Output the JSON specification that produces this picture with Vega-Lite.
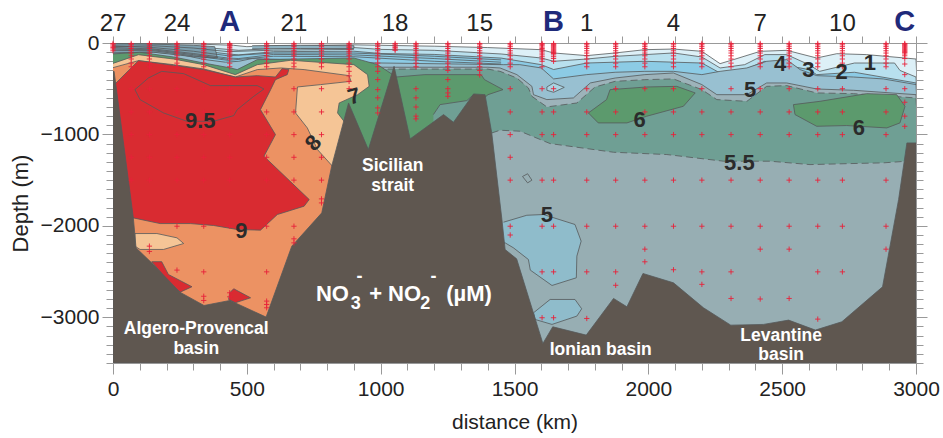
{"$schema":"https://vega.github.io/schema/vega-lite/v6.json","width":803,"height":320,"autosize":{"type":"none"},"padding":{"left":113,"top":43,"right":27,"bottom":75},"background":"white","config":{"view":{"stroke":null},"text":{"font":"Liberation Sans"},"axis":{"labelFont":"Liberation Sans","titleFont":"Liberation Sans","labelColor":"#222","titleColor":"#222","grid":false,"domainColor":"#999","tickColor":"#999"}},
"datasets":{"poly":[
{"p":"L1","s":1,"x":0,"y":-5},{"p":"L1","s":2,"x":300,"y":-10},{"p":"L1","s":3,"x":450,"y":-25},{"p":"L1","s":4,"x":500,"y":-40},{"p":"L1","s":5,"x":600,"y":-30},{"p":"L1","s":6,"x":900,"y":-20},{"p":"L1","s":7,"x":1000,"y":-25},{"p":"L1","s":8,"x":1200,"y":-35},{"p":"L1","s":9,"x":1400,"y":-50},{"p":"L1","s":10,"x":1600,"y":-73},{"p":"L1","s":11,"x":1646,"y":-109},{"p":"L1","s":12,"x":1770,"y":-138},{"p":"L1","s":13,"x":1876,"y":-109},{"p":"L1","s":14,"x":1987,"y":-73},{"p":"L1","s":15,"x":2094,"y":-66},{"p":"L1","s":16,"x":2200,"y":-91},{"p":"L1","s":17,"x":2268,"y":-226},{"p":"L1","s":18,"x":2318,"y":-182},{"p":"L1","s":19,"x":2418,"y":-91},{"p":"L1","s":20,"x":2517,"y":-80},{"p":"L1","s":21,"x":2629,"y":-164},{"p":"L1","s":22,"x":2704,"y":-117},{"p":"L1","s":23,"x":2816,"y":-127},{"p":"L1","s":24,"x":3000,"y":-175},{"p":"L1","s":25,"x":3050,"y":-3500},{"p":"L1","s":26,"x":-50,"y":-3500},
{"p":"L2","s":1,"x":0,"y":-10},{"p":"L2","s":2,"x":150,"y":-20},{"p":"L2","s":3,"x":300,"y":-40},{"p":"L2","s":4,"x":430,"y":-70},{"p":"L2","s":5,"x":470,"y":-80},{"p":"L2","s":6,"x":600,"y":-60},{"p":"L2","s":7,"x":900,"y":-50},{"p":"L2","s":8,"x":1000,"y":-70},{"p":"L2","s":9,"x":1200,"y":-80},{"p":"L2","s":10,"x":1450,"y":-120},{"p":"L2","s":11,"x":1600,"y":-164},{"p":"L2","s":12,"x":1646,"y":-200},{"p":"L2","s":13,"x":1770,"y":-175},{"p":"L2","s":14,"x":1876,"y":-146},{"p":"L2","s":15,"x":1987,"y":-127},{"p":"L2","s":16,"x":2094,"y":-109},{"p":"L2","s":17,"x":2200,"y":-153},{"p":"L2","s":18,"x":2268,"y":-273},{"p":"L2","s":19,"x":2360,"y":-237},{"p":"L2","s":20,"x":2435,"y":-127},{"p":"L2","s":21,"x":2517,"y":-127},{"p":"L2","s":22,"x":2600,"y":-237},{"p":"L2","s":23,"x":2640,"y":-310},{"p":"L2","s":24,"x":2770,"y":-219},{"p":"L2","s":25,"x":2920,"y":-219},{"p":"L2","s":26,"x":2940,"y":-300},{"p":"L2","s":27,"x":3000,"y":-372},{"p":"L2","s":28,"x":3050,"y":-3500},{"p":"L2","s":29,"x":-50,"y":-3500},
{"p":"L3","s":1,"x":0,"y":-20},{"p":"L3","s":2,"x":150,"y":-40},{"p":"L3","s":3,"x":300,"y":-75},{"p":"L3","s":4,"x":430,"y":-120},{"p":"L3","s":5,"x":470,"y":-130},{"p":"L3","s":6,"x":600,"y":-95},{"p":"L3","s":7,"x":900,"y":-90},{"p":"L3","s":8,"x":1000,"y":-115},{"p":"L3","s":9,"x":1200,"y":-125},{"p":"L3","s":10,"x":1450,"y":-165},{"p":"L3","s":11,"x":1600,"y":-237},{"p":"L3","s":12,"x":1646,"y":-290},{"p":"L3","s":13,"x":1770,"y":-219},{"p":"L3","s":14,"x":1987,"y":-200},{"p":"L3","s":15,"x":2200,"y":-219},{"p":"L3","s":16,"x":2268,"y":-328},{"p":"L3","s":17,"x":2360,"y":-291},{"p":"L3","s":18,"x":2435,"y":-200},{"p":"L3","s":19,"x":2600,"y":-291},{"p":"L3","s":20,"x":2629,"y":-346},{"p":"L3","s":21,"x":2770,"y":-320},{"p":"L3","s":22,"x":3000,"y":-437},{"p":"L3","s":23,"x":3050,"y":-3500},{"p":"L3","s":24,"x":-50,"y":-3500},
{"p":"L4","s":1,"x":0,"y":-110},{"p":"L4","s":2,"x":150,"y":-100},{"p":"L4","s":3,"x":250,"y":-125},{"p":"L4","s":4,"x":340,"y":-180},{"p":"L4","s":5,"x":420,"y":-210},{"p":"L4","s":6,"x":470,"y":-200},{"p":"L4","s":7,"x":520,"y":-170},{"p":"L4","s":8,"x":985,"y":-218},{"p":"L4","s":9,"x":1460,"y":-237},{"p":"L4","s":10,"x":1520,"y":-237},{"p":"L4","s":11,"x":1600,"y":-273},{"p":"L4","s":12,"x":1646,"y":-393},{"p":"L4","s":13,"x":1770,"y":-346},{"p":"L4","s":14,"x":1876,"y":-320},{"p":"L4","s":15,"x":1987,"y":-310},{"p":"L4","s":16,"x":2094,"y":-310},{"p":"L4","s":17,"x":2200,"y":-346},{"p":"L4","s":18,"x":2268,"y":-310},{"p":"L4","s":19,"x":2368,"y":-273},{"p":"L4","s":20,"x":2442,"y":-200},{"p":"L4","s":21,"x":2517,"y":-182},{"p":"L4","s":22,"x":2567,"y":-291},{"p":"L4","s":23,"x":2629,"y":-357},{"p":"L4","s":24,"x":2766,"y":-372},{"p":"L4","s":25,"x":2878,"y":-393},{"p":"L4","s":26,"x":3000,"y":-455},{"p":"L4","s":27,"x":3050,"y":-3500},{"p":"L4","s":28,"x":-50,"y":-3500},
{"p":"Slate","s":1,"x":-50,"y":-8},{"p":"Slate","s":2,"x":150,"y":-12},{"p":"Slate","s":3,"x":300,"y":-25},{"p":"Slate","s":4,"x":380,"y":-40},{"p":"Slate","s":5,"x":390,"y":-165},{"p":"Slate","s":6,"x":300,"y":-150},{"p":"Slate","s":7,"x":150,"y":-100},{"p":"Slate","s":8,"x":-50,"y":-110},
{"p":"Slate2","s":1,"x":520,"y":-30},{"p":"Slate2","s":2,"x":700,"y":-25},{"p":"Slate2","s":3,"x":900,"y":-30},{"p":"Slate2","s":4,"x":900,"y":-60},{"p":"Slate2","s":5,"x":700,"y":-60},{"p":"Slate2","s":6,"x":520,"y":-65},
{"p":"X1","s":1,"x":0,"y":-30},{"p":"X1","s":2,"x":150,"y":-50},{"p":"X1","s":3,"x":300,"y":-90},{"p":"X1","s":4,"x":430,"y":-140},{"p":"X1","s":5,"x":600,"y":-110},{"p":"X1","s":6,"x":900,"y":-110},{"p":"X1","s":7,"x":1200,"y":-145},{"p":"X1","s":8,"x":1450,"y":-185},
{"p":"X2","s":1,"x":0,"y":-50},{"p":"X2","s":2,"x":150,"y":-65},{"p":"X2","s":3,"x":300,"y":-115},{"p":"X2","s":4,"x":430,"y":-165},{"p":"X2","s":5,"x":470,"y":-170},{"p":"X2","s":6,"x":600,"y":-125},{"p":"X2","s":7,"x":900,"y":-130},{"p":"X2","s":8,"x":1200,"y":-170},{"p":"X2","s":9,"x":1450,"y":-210},
{"p":"X3","s":1,"x":0,"y":-80},{"p":"X3","s":2,"x":150,"y":-85},{"p":"X3","s":3,"x":300,"y":-140},{"p":"X3","s":4,"x":430,"y":-190},{"p":"X3","s":5,"x":600,"y":-145},{"p":"X3","s":6,"x":900,"y":-150},{"p":"X3","s":7,"x":1200,"y":-200},{"p":"X3","s":8,"x":1450,"y":-230},
{"p":"X4","s":1,"x":0,"y":-40},{"p":"X4","s":2,"x":150,"y":-30},{"p":"X4","s":3,"x":300,"y":-55},{"p":"X4","s":4,"x":430,"y":-95},{"p":"X4","s":5,"x":600,"y":-78},{"p":"X4","s":6,"x":900,"y":-70},
{"p":"X5","s":1,"x":0,"y":-65},{"p":"X5","s":2,"x":150,"y":-75},{"p":"X5","s":3,"x":300,"y":-127},{"p":"X5","s":4,"x":430,"y":-178},
{"p":"L5","s":1,"x":0,"y":-300},{"p":"L5","s":2,"x":900,"y":-300},{"p":"L5","s":3,"x":985,"y":-265},{"p":"L5","s":4,"x":1400,"y":-265},{"p":"L5","s":5,"x":1446,"y":-273},{"p":"L5","s":6,"x":1509,"y":-346},{"p":"L5","s":7,"x":1565,"y":-474},{"p":"L5","s":8,"x":1571,"y":-565},{"p":"L5","s":9,"x":1621,"y":-619},{"p":"L5","s":10,"x":1720,"y":-601},{"p":"L5","s":11,"x":1783,"y":-437},{"p":"L5","s":12,"x":1876,"y":-383},{"p":"L5","s":13,"x":1987,"y":-346},{"p":"L5","s":14,"x":2094,"y":-328},{"p":"L5","s":15,"x":2200,"y":-455},{"p":"L5","s":16,"x":2256,"y":-565},{"p":"L5","s":17,"x":2368,"y":-565},{"p":"L5","s":18,"x":2442,"y":-437},{"p":"L5","s":19,"x":2517,"y":-437},{"p":"L5","s":20,"x":2629,"y":-503},{"p":"L5","s":21,"x":2766,"y":-517},{"p":"L5","s":22,"x":3000,"y":-565},{"p":"L5","s":23,"x":3050,"y":-3500},{"p":"L5","s":24,"x":-50,"y":-3500},
{"p":"L55","s":1,"x":0,"y":-320},{"p":"L55","s":2,"x":900,"y":-320},{"p":"L55","s":3,"x":985,"y":-285},{"p":"L55","s":4,"x":1400,"y":-285},{"p":"L55","s":5,"x":1446,"y":-310},{"p":"L55","s":6,"x":1509,"y":-383},{"p":"L55","s":7,"x":1552,"y":-492},{"p":"L55","s":8,"x":1565,"y":-583},{"p":"L55","s":9,"x":1621,"y":-699},{"p":"L55","s":10,"x":1733,"y":-656},{"p":"L55","s":11,"x":1801,"y":-481},{"p":"L55","s":12,"x":1876,"y":-419},{"p":"L55","s":13,"x":1987,"y":-401},{"p":"L55","s":14,"x":2094,"y":-393},{"p":"L55","s":15,"x":2200,"y":-510},{"p":"L55","s":16,"x":2256,"y":-619},{"p":"L55","s":17,"x":2368,"y":-638},{"p":"L55","s":18,"x":2442,"y":-474},{"p":"L55","s":19,"x":2517,"y":-466},{"p":"L55","s":20,"x":2629,"y":-546},{"p":"L55","s":21,"x":2766,"y":-554},{"p":"L55","s":22,"x":3000,"y":-601},{"p":"L55","s":23,"x":3050,"y":-3500},{"p":"L55","s":24,"x":-50,"y":-3500},
{"p":"Deep","s":1,"x":1415,"y":-984},{"p":"Deep","s":2,"x":1446,"y":-954},{"p":"Deep","s":3,"x":1521,"y":-965},{"p":"Deep","s":4,"x":1633,"y":-1100},{"p":"Deep","s":5,"x":1870,"y":-1195},{"p":"Deep","s":6,"x":2069,"y":-1220},{"p":"Deep","s":7,"x":2281,"y":-1293},{"p":"Deep","s":8,"x":2455,"y":-1293},{"p":"Deep","s":9,"x":2604,"y":-1330},{"p":"Deep","s":10,"x":2754,"y":-1319},{"p":"Deep","s":11,"x":2878,"y":-1311},{"p":"Deep","s":12,"x":3000,"y":-1286},{"p":"Deep","s":13,"x":3050,"y":-3500},{"p":"Deep","s":14,"x":1415,"y":-3500},
{"p":"Green","s":1,"x":-50,"y":-128},{"p":"Green","s":2,"x":100,"y":-102},{"p":"Green","s":3,"x":226,"y":-153},{"p":"Green","s":4,"x":339,"y":-219},{"p":"Green","s":5,"x":439,"y":-273},{"p":"Green","s":6,"x":464,"y":-291},{"p":"Green","s":7,"x":539,"y":-182},{"p":"Green","s":8,"x":900,"y":-164},{"p":"Green","s":9,"x":989,"y":-237},{"p":"Green","s":10,"x":1058,"y":-372},{"p":"Green","s":11,"x":1165,"y":-346},{"p":"Green","s":12,"x":1375,"y":-346},{"p":"Green","s":13,"x":1388,"y":-401},{"p":"Green","s":14,"x":1457,"y":-510},{"p":"Green","s":15,"x":1401,"y":-565},{"p":"Green","s":16,"x":1347,"y":-700},{"p":"Green","s":17,"x":1000,"y":-1300},{"p":"Green","s":18,"x":-50,"y":-1300},
{"p":"TealPatch","s":1,"x":1197,"y":-783},{"p":"TealPatch","s":2,"x":1222,"y":-674},{"p":"TealPatch","s":3,"x":1322,"y":-630},{"p":"TealPatch","s":4,"x":1347,"y":-565},{"p":"TealPatch","s":5,"x":1300,"y":-950},{"p":"TealPatch","s":6,"x":1197,"y":-950},
{"p":"Tan","s":1,"x":-50,"y":-273},{"p":"Tan","s":2,"x":95,"y":-128},{"p":"Tan","s":3,"x":226,"y":-175},{"p":"Tan","s":4,"x":339,"y":-237},{"p":"Tan","s":5,"x":457,"y":-346},{"p":"Tan","s":6,"x":539,"y":-237},{"p":"Tan","s":7,"x":664,"y":-189},{"p":"Tan","s":8,"x":900,"y":-237},{"p":"Tan","s":9,"x":951,"y":-346},{"p":"Tan","s":10,"x":957,"y":-474},{"p":"Tan","s":11,"x":914,"y":-565},{"p":"Tan","s":12,"x":845,"y":-656},{"p":"Tan","s":13,"x":839,"y":-765},{"p":"Tan","s":14,"x":882,"y":-929},{"p":"Tan","s":15,"x":901,"y":-1057},{"p":"Tan","s":16,"x":957,"y":-1184},{"p":"Tan","s":17,"x":957,"y":-2000},{"p":"Tan","s":18,"x":-50,"y":-2000},
{"p":"Orange","s":1,"x":-50,"y":-310},{"p":"Orange","s":2,"x":95,"y":-193},{"p":"Orange","s":3,"x":226,"y":-237},{"p":"Orange","s":4,"x":339,"y":-284},{"p":"Orange","s":5,"x":457,"y":-372},{"p":"Orange","s":6,"x":539,"y":-291},{"p":"Orange","s":7,"x":627,"y":-273},{"p":"Orange","s":8,"x":714,"y":-291},{"p":"Orange","s":9,"x":882,"y":-357},{"p":"Orange","s":10,"x":889,"y":-419},{"p":"Orange","s":11,"x":776,"y":-455},{"p":"Orange","s":12,"x":689,"y":-481},{"p":"Orange","s":13,"x":682,"y":-765},{"p":"Orange","s":14,"x":726,"y":-929},{"p":"Orange","s":15,"x":764,"y":-1166},{"p":"Orange","s":16,"x":820,"y":-1348},{"p":"Orange","s":17,"x":840,"y":-3200},{"p":"Orange","s":18,"x":-50,"y":-3200},
{"p":"Red","s":1,"x":0,"y":-470},{"p":"Red","s":2,"x":95,"y":-193},{"p":"Red","s":3,"x":226,"y":-244},{"p":"Red","s":4,"x":339,"y":-291},{"p":"Red","s":5,"x":457,"y":-372},{"p":"Red","s":6,"x":539,"y":-357},{"p":"Red","s":7,"x":607,"y":-372},{"p":"Red","s":8,"x":632,"y":-280},{"p":"Red","s":9,"x":657,"y":-291},{"p":"Red","s":10,"x":651,"y":-346},{"p":"Red","s":11,"x":607,"y":-401},{"p":"Red","s":12,"x":589,"y":-510},{"p":"Red","s":13,"x":551,"y":-729},{"p":"Red","s":14,"x":607,"y":-1002},{"p":"Red","s":15,"x":564,"y":-1239},{"p":"Red","s":16,"x":733,"y":-1712},{"p":"Red","s":17,"x":714,"y":-1785},{"p":"Red","s":18,"x":614,"y":-1876},{"p":"Red","s":19,"x":551,"y":-2047},{"p":"Red","s":20,"x":464,"y":-2040},{"p":"Red","s":21,"x":376,"y":-1996},{"p":"Red","s":22,"x":289,"y":-1975},{"p":"Red","s":23,"x":176,"y":-1975},{"p":"Red","s":24,"x":76,"y":-1913},{"p":"Red","s":25,"x":0,"y":-1913},
{"p":"Red95","s":1,"x":132,"y":-383},{"p":"Red95","s":2,"x":182,"y":-310},{"p":"Red95","s":3,"x":264,"y":-335},{"p":"Red95","s":4,"x":364,"y":-466},{"p":"Red95","s":5,"x":539,"y":-466},{"p":"Red95","s":6,"x":564,"y":-503},{"p":"Red95","s":7,"x":526,"y":-583},{"p":"Red95","s":8,"x":464,"y":-729},{"p":"Red95","s":9,"x":451,"y":-794},{"p":"Red95","s":10,"x":376,"y":-856},{"p":"Red95","s":11,"x":276,"y":-856},{"p":"Red95","s":12,"x":189,"y":-765},{"p":"Red95","s":13,"x":101,"y":-619},{"p":"Red95","s":14,"x":82,"y":-510},{"p":"Red95","s":15,"x":132,"y":-383},
{"p":"Red2","s":1,"x":145,"y":-2392},{"p":"Red2","s":2,"x":182,"y":-2392},{"p":"Red2","s":3,"x":207,"y":-2532},{"p":"Red2","s":4,"x":295,"y":-2666},{"p":"Red2","s":5,"x":251,"y":-2725},{"p":"Red2","s":6,"x":220,"y":-2659},{"p":"Red2","s":7,"x":145,"y":-2392},
{"p":"Red3","s":1,"x":451,"y":-2688},{"p":"Red3","s":2,"x":514,"y":-2787},{"p":"Red3","s":3,"x":457,"y":-2841},{"p":"Red3","s":4,"x":432,"y":-2805},{"p":"Red3","s":5,"x":436,"y":-2732},{"p":"Red3","s":6,"x":451,"y":-2688},
{"p":"Tan2","s":1,"x":82,"y":-2084},{"p":"Tan2","s":2,"x":164,"y":-2084},{"p":"Tan2","s":3,"x":239,"y":-2131},{"p":"Tan2","s":4,"x":264,"y":-2193},{"p":"Tan2","s":5,"x":189,"y":-2258},{"p":"Tan2","s":6,"x":101,"y":-2258},{"p":"Tan2","s":7,"x":82,"y":-2222},{"p":"Tan2","s":8,"x":82,"y":-2084},
{"p":"PatchA","s":1,"x":1459,"y":-1960},{"p":"PatchA","s":2,"x":1546,"y":-1884},{"p":"PatchA","s":3,"x":1608,"y":-1876},{"p":"PatchA","s":4,"x":1726,"y":-1985},{"p":"PatchA","s":5,"x":1749,"y":-2167},{"p":"PatchA","s":6,"x":1733,"y":-2331},{"p":"PatchA","s":7,"x":1731,"y":-2568},{"p":"PatchA","s":8,"x":1640,"y":-2652},{"p":"PatchA","s":9,"x":1559,"y":-2484},{"p":"PatchA","s":10,"x":1552,"y":-2368},{"p":"PatchA","s":11,"x":1496,"y":-2240},{"p":"PatchA","s":12,"x":1465,"y":-2186},{"p":"PatchA","s":13,"x":1440,"y":-2186},{"p":"PatchA","s":14,"x":1440,"y":-1960},
{"p":"PatchB","s":1,"x":1571,"y":-2951},{"p":"PatchB","s":2,"x":1633,"y":-2805},{"p":"PatchB","s":3,"x":1726,"y":-2805},{"p":"PatchB","s":4,"x":1751,"y":-2907},{"p":"PatchB","s":5,"x":1733,"y":-2987},{"p":"PatchB","s":6,"x":1640,"y":-3078},{"p":"PatchB","s":7,"x":1577,"y":-3024},{"p":"PatchB","s":8,"x":1571,"y":-2951},
{"p":"PatchC","s":1,"x":1621,"y":-481},{"p":"PatchC","s":2,"x":1646,"y":-437},{"p":"PatchC","s":3,"x":1686,"y":-485},{"p":"PatchC","s":4,"x":1646,"y":-539},{"p":"PatchC","s":5,"x":1621,"y":-517},{"p":"PatchC","s":6,"x":1621,"y":-481},
{"p":"GreenA","s":1,"x":1776,"y":-765},{"p":"GreenA","s":2,"x":1844,"y":-619},{"p":"GreenA","s":3,"x":1857,"y":-510},{"p":"GreenA","s":4,"x":1994,"y":-481},{"p":"GreenA","s":5,"x":2106,"y":-474},{"p":"GreenA","s":6,"x":2175,"y":-546},{"p":"GreenA","s":7,"x":2131,"y":-692},{"p":"GreenA","s":8,"x":1994,"y":-801},{"p":"GreenA","s":9,"x":1920,"y":-874},{"p":"GreenA","s":10,"x":1813,"y":-874},{"p":"GreenA","s":11,"x":1776,"y":-765},
{"p":"GreenB","s":1,"x":2542,"y":-674},{"p":"GreenB","s":2,"x":2641,"y":-638},{"p":"GreenB","s":3,"x":2816,"y":-554},{"p":"GreenB","s":4,"x":2928,"y":-565},{"p":"GreenB","s":5,"x":2959,"y":-692},{"p":"GreenB","s":6,"x":2940,"y":-874},{"p":"GreenB","s":7,"x":2891,"y":-929},{"p":"GreenB","s":8,"x":2741,"y":-903},{"p":"GreenB","s":9,"x":2629,"y":-911},{"p":"GreenB","s":10,"x":2548,"y":-783},{"p":"GreenB","s":11,"x":2542,"y":-674},
{"p":"Small","s":1,"x":1530,"y":-1460},{"p":"Small","s":2,"x":1549,"y":-1430},{"p":"Small","s":3,"x":1565,"y":-1500},{"p":"Small","s":4,"x":1549,"y":-1530},{"p":"Small","s":5,"x":1530,"y":-1460},
{"p":"Bathy","s":1,"x":0,"y":-310},{"p":"Bathy","s":2,"x":4,"y":-310},{"p":"Bathy","s":3,"x":76,"y":-1913},{"p":"Bathy","s":4,"x":86,"y":-2240},{"p":"Bathy","s":5,"x":151,"y":-2423},{"p":"Bathy","s":6,"x":250,"y":-2725},{"p":"Bathy","s":7,"x":340,"y":-2871},{"p":"Bathy","s":8,"x":437,"y":-2816},{"p":"Bathy","s":9,"x":572,"y":-2998},{"p":"Bathy","s":10,"x":668,"y":-2222},{"p":"Bathy","s":11,"x":780,"y":-1858},{"p":"Bathy","s":12,"x":817,"y":-1348},{"p":"Bathy","s":13,"x":880,"y":-656},{"p":"Bathy","s":14,"x":954,"y":-1166},{"p":"Bathy","s":15,"x":1050,"y":-255},{"p":"Bathy","s":16,"x":1110,"y":-1049},{"p":"Bathy","s":17,"x":1235,"y":-783},{"p":"Bathy","s":18,"x":1272,"y":-867},{"p":"Bathy","s":19,"x":1347,"y":-557},{"p":"Bathy","s":20,"x":1390,"y":-565},{"p":"Bathy","s":21,"x":1415,"y":-984},{"p":"Bathy","s":22,"x":1453,"y":-1931},{"p":"Bathy","s":23,"x":1465,"y":-2259},{"p":"Bathy","s":24,"x":1508,"y":-2361},{"p":"Bathy","s":25,"x":1606,"y":-3286},{"p":"Bathy","s":26,"x":1643,"y":-3104},{"p":"Bathy","s":27,"x":1768,"y":-3195},{"p":"Bathy","s":28,"x":1870,"y":-2794},{"p":"Bathy","s":29,"x":1920,"y":-2885},{"p":"Bathy","s":30,"x":1980,"y":-2521},{"p":"Bathy","s":31,"x":2094,"y":-2623},{"p":"Bathy","s":32,"x":2206,"y":-2896},{"p":"Bathy","s":33,"x":2308,"y":-3086},{"p":"Bathy","s":34,"x":2430,"y":-3078},{"p":"Bathy","s":35,"x":2524,"y":-3031},{"p":"Bathy","s":36,"x":2624,"y":-3140},{"p":"Bathy","s":37,"x":2723,"y":-3049},{"p":"Bathy","s":38,"x":2875,"y":-2667},{"p":"Bathy","s":39,"x":2935,"y":-1712},{"p":"Bathy","s":40,"x":2966,"y":-1093},{"p":"Bathy","s":41,"x":3000,"y":-1093},{"p":"Bathy","s":42,"x":3000,"y":-3500},{"p":"Bathy","s":43,"x":0,"y":-3500},{"p":"Bathy","s":44,"x":0,"y":-310}
],
"sta":[
{"x":0,"y":-5},{"x":0,"y":-20},{"x":0,"y":-35},{"x":0,"y":-50},{"x":0,"y":-65},{"x":0,"y":-85},
{"x":68,"y":-5},{"x":68,"y":-20},{"x":68,"y":-40},{"x":68,"y":-60},{"x":68,"y":-85},{"x":68,"y":-110},{"x":68,"y":-140},{"x":68,"y":-175},{"x":68,"y":-220},{"x":68,"y":-260},{"x":68,"y":-500},{"x":68,"y":-754},{"x":68,"y":-1002},{"x":68,"y":-1250},{"x":68,"y":-1500},
{"x":136,"y":-5},{"x":136,"y":-20},{"x":136,"y":-40},{"x":136,"y":-60},{"x":136,"y":-85},{"x":136,"y":-110},{"x":136,"y":-140},{"x":136,"y":-175},{"x":136,"y":-220},{"x":136,"y":-260},{"x":136,"y":-500},{"x":136,"y":-754},{"x":136,"y":-1002},{"x":136,"y":-1250},{"x":136,"y":-1500},{"x":136,"y":-2222},{"x":136,"y":-2280},
{"x":239,"y":-5},{"x":239,"y":-20},{"x":239,"y":-40},{"x":239,"y":-60},{"x":239,"y":-85},{"x":239,"y":-110},{"x":239,"y":-140},{"x":239,"y":-175},{"x":239,"y":-220},{"x":239,"y":-260},{"x":239,"y":-500},{"x":239,"y":-754},{"x":239,"y":-1002},{"x":239,"y":-1250},{"x":239,"y":-1500},{"x":239,"y":-2004},{"x":239,"y":-2484},
{"x":339,"y":-5},{"x":339,"y":-20},{"x":339,"y":-40},{"x":339,"y":-60},{"x":339,"y":-85},{"x":339,"y":-110},{"x":339,"y":-140},{"x":339,"y":-175},{"x":339,"y":-220},{"x":339,"y":-260},{"x":339,"y":-500},{"x":339,"y":-754},{"x":339,"y":-1002},{"x":339,"y":-1250},{"x":339,"y":-1500},{"x":339,"y":-2004},{"x":339,"y":-2503},{"x":339,"y":-2770},{"x":339,"y":-2816},
{"x":436,"y":-5},{"x":436,"y":-15},{"x":436,"y":-25},{"x":436,"y":-35},{"x":436,"y":-50},{"x":436,"y":-65},{"x":436,"y":-80},{"x":436,"y":-95},{"x":436,"y":-110},{"x":436,"y":-130},{"x":436,"y":-150},{"x":436,"y":-175},{"x":436,"y":-220},{"x":436,"y":-260},{"x":436,"y":-500},{"x":436,"y":-754},{"x":436,"y":-1002},{"x":436,"y":-1250},{"x":436,"y":-1500},{"x":436,"y":-2004},{"x":436,"y":-2732},{"x":436,"y":-2776},
{"x":574,"y":-5},{"x":574,"y":-20},{"x":574,"y":-40},{"x":574,"y":-60},{"x":574,"y":-85},{"x":574,"y":-110},{"x":574,"y":-140},{"x":574,"y":-175},{"x":574,"y":-220},{"x":574,"y":-260},{"x":574,"y":-754},{"x":574,"y":-1002},{"x":574,"y":-1250},{"x":574,"y":-1500},{"x":574,"y":-2004},{"x":574,"y":-2503},{"x":574,"y":-2823},{"x":574,"y":-2860},{"x":574,"y":-2896},
{"x":676,"y":-5},{"x":676,"y":-20},{"x":676,"y":-40},{"x":676,"y":-60},{"x":676,"y":-85},{"x":676,"y":-110},{"x":676,"y":-140},{"x":676,"y":-175},{"x":676,"y":-220},{"x":676,"y":-260},{"x":676,"y":-500},{"x":676,"y":-754},{"x":676,"y":-1002},{"x":676,"y":-1250},{"x":676,"y":-1500},{"x":676,"y":-2004},{"x":676,"y":-2142},{"x":676,"y":-2186},
{"x":779,"y":-5},{"x":779,"y":-20},{"x":779,"y":-40},{"x":779,"y":-60},{"x":779,"y":-85},{"x":779,"y":-110},{"x":779,"y":-140},{"x":779,"y":-175},{"x":779,"y":-220},{"x":779,"y":-260},{"x":779,"y":-500},{"x":779,"y":-754},{"x":779,"y":-1002},{"x":779,"y":-1250},{"x":779,"y":-1500},{"x":779,"y":-1705},{"x":779,"y":-1749},
{"x":882,"y":-5},{"x":882,"y":-20},{"x":882,"y":-35},{"x":882,"y":-50},{"x":882,"y":-70},{"x":882,"y":-90},{"x":882,"y":-110},{"x":882,"y":-140},{"x":882,"y":-175},{"x":882,"y":-220},{"x":882,"y":-260},{"x":882,"y":-310},{"x":882,"y":-360},{"x":882,"y":-420},{"x":882,"y":-500},
{"x":989,"y":-5},{"x":989,"y":-20},{"x":989,"y":-40},{"x":989,"y":-60},{"x":989,"y":-85},{"x":989,"y":-110},{"x":989,"y":-140},{"x":989,"y":-175},{"x":989,"y":-220},{"x":989,"y":-260},{"x":989,"y":-310},{"x":989,"y":-400},{"x":989,"y":-510},{"x":989,"y":-600},{"x":989,"y":-710},{"x":989,"y":-765},
{"x":1054,"y":-5},{"x":1054,"y":-20},{"x":1054,"y":-35},{"x":1054,"y":-50},{"x":1054,"y":-65},{"x":1054,"y":-80},
{"x":1132,"y":-5},{"x":1132,"y":-20},{"x":1132,"y":-40},{"x":1132,"y":-60},{"x":1132,"y":-85},{"x":1132,"y":-110},{"x":1132,"y":-140},{"x":1132,"y":-175},{"x":1132,"y":-220},{"x":1132,"y":-260},{"x":1132,"y":-500},{"x":1132,"y":-600},{"x":1132,"y":-700},{"x":1132,"y":-800},{"x":1132,"y":-830},
{"x":1251,"y":-5},{"x":1251,"y":-20},{"x":1251,"y":-40},{"x":1251,"y":-60},{"x":1251,"y":-85},{"x":1251,"y":-110},{"x":1251,"y":-140},{"x":1251,"y":-175},{"x":1251,"y":-220},{"x":1251,"y":-260},{"x":1251,"y":-300},{"x":1251,"y":-400},{"x":1251,"y":-500},{"x":1251,"y":-546},{"x":1251,"y":-583},
{"x":1370,"y":-5},{"x":1370,"y":-20},{"x":1370,"y":-40},{"x":1370,"y":-60},{"x":1370,"y":-85},{"x":1370,"y":-110},{"x":1370,"y":-140},{"x":1370,"y":-175},{"x":1370,"y":-220},{"x":1370,"y":-260},{"x":1370,"y":-300},{"x":1370,"y":-350},
{"x":1484,"y":-5},{"x":1484,"y":-20},{"x":1484,"y":-40},{"x":1484,"y":-60},{"x":1484,"y":-85},{"x":1484,"y":-110},{"x":1484,"y":-140},{"x":1484,"y":-175},{"x":1484,"y":-220},{"x":1484,"y":-260},{"x":1484,"y":-500},{"x":1484,"y":-754},{"x":1484,"y":-1002},{"x":1484,"y":-1250},{"x":1484,"y":-1500},{"x":1484,"y":-2004},{"x":1484,"y":-2100},
{"x":1603,"y":-5},{"x":1603,"y":-15},{"x":1603,"y":-30},{"x":1603,"y":-45},{"x":1603,"y":-60},{"x":1603,"y":-75},{"x":1603,"y":-90},{"x":1603,"y":-110},{"x":1603,"y":-130},{"x":1603,"y":-150},{"x":1603,"y":-175},{"x":1603,"y":-200},{"x":1603,"y":-260},{"x":1603,"y":-500},{"x":1603,"y":-754},{"x":1603,"y":-1002},{"x":1603,"y":-1500},{"x":1603,"y":-2004},{"x":1603,"y":-2503},{"x":1603,"y":-3005},
{"x":1646,"y":-5},{"x":1646,"y":-15},{"x":1646,"y":-25},{"x":1646,"y":-35},{"x":1646,"y":-45},{"x":1646,"y":-55},{"x":1646,"y":-65},{"x":1646,"y":-75},{"x":1646,"y":-85},{"x":1646,"y":-95},{"x":1646,"y":-105},{"x":1646,"y":-115},{"x":1646,"y":-130},{"x":1646,"y":-150},{"x":1646,"y":-170},{"x":1646,"y":-200},{"x":1646,"y":-500},{"x":1646,"y":-754},{"x":1646,"y":-1002},{"x":1646,"y":-1500},{"x":1646,"y":-2004},{"x":1646,"y":-2503},{"x":1646,"y":-3005},
{"x":1770,"y":-5},{"x":1770,"y":-20},{"x":1770,"y":-40},{"x":1770,"y":-60},{"x":1770,"y":-85},{"x":1770,"y":-110},{"x":1770,"y":-140},{"x":1770,"y":-175},{"x":1770,"y":-220},{"x":1770,"y":-260},{"x":1770,"y":-500},{"x":1770,"y":-754},{"x":1770,"y":-1002},{"x":1770,"y":-1500},{"x":1770,"y":-2004},{"x":1770,"y":-2503},{"x":1770,"y":-3013},
{"x":1878,"y":-5},{"x":1878,"y":-20},{"x":1878,"y":-40},{"x":1878,"y":-60},{"x":1878,"y":-85},{"x":1878,"y":-110},{"x":1878,"y":-140},{"x":1878,"y":-175},{"x":1878,"y":-220},{"x":1878,"y":-260},{"x":1878,"y":-500},{"x":1878,"y":-754},{"x":1878,"y":-1002},{"x":1878,"y":-1500},{"x":1878,"y":-2004},{"x":1878,"y":-2503},{"x":1878,"y":-2650},
{"x":1987,"y":-5},{"x":1987,"y":-20},{"x":1987,"y":-40},{"x":1987,"y":-60},{"x":1987,"y":-85},{"x":1987,"y":-110},{"x":1987,"y":-140},{"x":1987,"y":-175},{"x":1987,"y":-220},{"x":1987,"y":-260},{"x":1987,"y":-500},{"x":1987,"y":-754},{"x":1987,"y":-1002},{"x":1987,"y":-1500},{"x":1987,"y":-2004},{"x":1987,"y":-2255},{"x":1987,"y":-2393},
{"x":2094,"y":-5},{"x":2094,"y":-20},{"x":2094,"y":-40},{"x":2094,"y":-60},{"x":2094,"y":-85},{"x":2094,"y":-110},{"x":2094,"y":-140},{"x":2094,"y":-175},{"x":2094,"y":-220},{"x":2094,"y":-260},{"x":2094,"y":-500},{"x":2094,"y":-754},{"x":2094,"y":-1002},{"x":2094,"y":-1500},{"x":2094,"y":-2004},{"x":2094,"y":-2480},
{"x":2200,"y":-5},{"x":2200,"y":-20},{"x":2200,"y":-40},{"x":2200,"y":-60},{"x":2200,"y":-85},{"x":2200,"y":-110},{"x":2200,"y":-140},{"x":2200,"y":-175},{"x":2200,"y":-220},{"x":2200,"y":-260},{"x":2200,"y":-500},{"x":2200,"y":-754},{"x":2200,"y":-1002},{"x":2200,"y":-1500},{"x":2200,"y":-2004},{"x":2200,"y":-2503},{"x":2200,"y":-2640},
{"x":2309,"y":-5},{"x":2309,"y":-20},{"x":2309,"y":-40},{"x":2309,"y":-60},{"x":2309,"y":-85},{"x":2309,"y":-110},{"x":2309,"y":-140},{"x":2309,"y":-175},{"x":2309,"y":-220},{"x":2309,"y":-260},{"x":2309,"y":-500},{"x":2309,"y":-754},{"x":2309,"y":-1002},{"x":2309,"y":-1500},{"x":2309,"y":-2004},{"x":2309,"y":-2503},{"x":2309,"y":-2794},
{"x":2418,"y":-5},{"x":2418,"y":-20},{"x":2418,"y":-40},{"x":2418,"y":-60},{"x":2418,"y":-85},{"x":2418,"y":-110},{"x":2418,"y":-140},{"x":2418,"y":-175},{"x":2418,"y":-220},{"x":2418,"y":-260},{"x":2418,"y":-500},{"x":2418,"y":-754},{"x":2418,"y":-1002},{"x":2418,"y":-1500},{"x":2418,"y":-2004},{"x":2418,"y":-2255},{"x":2418,"y":-2800},
{"x":2526,"y":-5},{"x":2526,"y":-20},{"x":2526,"y":-40},{"x":2526,"y":-60},{"x":2526,"y":-85},{"x":2526,"y":-110},{"x":2526,"y":-140},{"x":2526,"y":-175},{"x":2526,"y":-220},{"x":2526,"y":-260},{"x":2526,"y":-500},{"x":2526,"y":-754},{"x":2526,"y":-1002},{"x":2526,"y":-1500},{"x":2526,"y":-2004},{"x":2526,"y":-2255},{"x":2526,"y":-2794},
{"x":2633,"y":-5},{"x":2633,"y":-20},{"x":2633,"y":-40},{"x":2633,"y":-60},{"x":2633,"y":-85},{"x":2633,"y":-110},{"x":2633,"y":-140},{"x":2633,"y":-175},{"x":2633,"y":-220},{"x":2633,"y":-260},{"x":2633,"y":-500},{"x":2633,"y":-754},{"x":2633,"y":-1002},{"x":2633,"y":-1500},{"x":2633,"y":-2004},{"x":2633,"y":-2503},{"x":2633,"y":-3020},
{"x":2725,"y":-5},{"x":2725,"y":-20},{"x":2725,"y":-40},{"x":2725,"y":-60},{"x":2725,"y":-85},{"x":2725,"y":-110},{"x":2725,"y":-140},{"x":2725,"y":-175},{"x":2725,"y":-220},{"x":2725,"y":-260},{"x":2725,"y":-500},{"x":2725,"y":-754},{"x":2725,"y":-1002},{"x":2725,"y":-1500},{"x":2725,"y":-2004},{"x":2725,"y":-2503},
{"x":2888,"y":-5},{"x":2888,"y":-20},{"x":2888,"y":-40},{"x":2888,"y":-60},{"x":2888,"y":-85},{"x":2888,"y":-110},{"x":2888,"y":-140},{"x":2888,"y":-175},{"x":2888,"y":-220},{"x":2888,"y":-260},{"x":2888,"y":-500},{"x":2888,"y":-754},{"x":2888,"y":-1002},{"x":2888,"y":-1500},{"x":2888,"y":-2004},{"x":2888,"y":-2255},
{"x":2958,"y":-5},{"x":2958,"y":-15},{"x":2958,"y":-25},{"x":2958,"y":-35},{"x":2958,"y":-45},{"x":2958,"y":-55},{"x":2958,"y":-65},{"x":2958,"y":-75},{"x":2958,"y":-85},{"x":2958,"y":-95},{"x":2958,"y":-105},{"x":2958,"y":-120},{"x":2958,"y":-140},{"x":2958,"y":-170},{"x":2958,"y":-230},{"x":2958,"y":-346},{"x":2958,"y":-500},{"x":2958,"y":-648},{"x":2958,"y":-800},{"x":2958,"y":-911}
],
"lab":[{"t":"9.5","x":326,"y":-856},{"t":"9","x":480,"y":-2058},{"t":"6","x":1967,"y":-838},{"t":"6","x":2787,"y":-929},{"t":"5.5","x":2340,"y":-1311},{"t":"5","x":2380,"y":-510},{"t":"4","x":2492,"y":-226},{"t":"3","x":2598,"y":-291},{"t":"2","x":2722,"y":-320},{"t":"1","x":2828,"y":-219},{"t":"5","x":1621,"y":-1883}],
"wlab":[{"t":"Sicilian","x":1045,"y":-1348},{"t":"strait","x":1045,"y":-1566},{"t":"Algero-Provencal","x":311,"y":-3133},{"t":"basin","x":311,"y":-3351},{"t":"Ionian basin","x":1822,"y":-3359},{"t":"Levantine","x":2496,"y":-3206},{"t":"basin","x":2496,"y":-3417}],
"chem":[{"t":"NO","x":820,"y":-2740},{"t":"+ NO","x":1054,"y":-2740},{"t":"(µM)","x":1330,"y":-2740}],
"chemsub":[{"t":"3","x":907,"y":-2860},{"t":"2","x":1167,"y":-2860},{"t":"-","x":921,"y":-2560},{"t":"-","x":1197,"y":-2560}],
"top":[{"t":"27","x":0,"y":0},{"t":"24","x":239,"y":0},{"t":"21","x":676,"y":0},{"t":"18","x":1054,"y":0},{"t":"15","x":1370,"y":0},{"t":"1","x":1770,"y":0},{"t":"4","x":2094,"y":0},{"t":"7","x":2418,"y":0},{"t":"10","x":2725,"y":0}],
"abc":[{"t":"A","x":436,"y":0},{"t":"B","x":1646,"y":0},{"t":"C","x":2958,"y":0}]
},
"resolve":{"axis":{"x":"independent","y":"independent"}},
"layer":[
{"data":{"name":"poly"},"mark":{"type":"line","clip":true,"stroke":"#55595a","strokeWidth":0.8,"interpolate":"linear"},
"encoding":{"x":{"field":"x","type":"quantitative","scale":{"domain":[0,3000],"nice":false,"zero":false},"axis":{"orient":"bottom","values":[0,500,1000,1500,2000,2500,3000],"tickSize":11,"labelFontSize":21,"labelPadding":4,"labelFlush":false,"title":"distance  (km)","titleFontSize":21,"titleFontWeight":"normal","titlePadding":12,"format":"d"}},
"y":{"field":"y","type":"quantitative","scale":{"domain":[-3500,0],"nice":false,"zero":false},"axis":{"orient":"left","values":[0,-1000,-2000,-3000],"tickSize":11,"labelFontSize":21,"labelPadding":3,"title":"Depth (m)","titleFontSize":22,"titleFontWeight":"normal","titlePadding":8,"format":"d"}},
"order":{"field":"s","type":"quantitative"},
"fill":{"field":"p","type":"nominal","legend":null,"scale":{"domain":["L1","L2","L3","L4","Slate","Slate2","X1","X2","X3","X4","X5","L5","L55","Deep","Green","TealPatch","Tan","Orange","Red","Red95","Red2","Red3","Tan2","PatchA","PatchB","PatchC","GreenA","GreenB","Small","Bathy"],"range":["#ddf0f7","#b8e0ee","#8ccbe5","#98c0d1","#7d9fae","#8fb3c2","transparent","transparent","transparent","transparent","transparent","#9db3ba","#6f9f94","#97aeb3","#5c9a6d","#6f9f94","#f5c596","#ec9263","#d92b31","#d92b31","#d92b31","#d92b31","#f5c596","#8fbccb","#8fbccb","#a9d3e3","#5c9a6d","#5c9a6d","#97aeb3","#5f5750"]}},
"strokeDash":{"field":"p","type":"nominal","legend":null,"scale":{"domain":["L55","Deep"],"range":[[7,4],[7,4]],"unknown":[1,0]}}}},
{"data":{"name":"sta"},"mark":{"type":"point","shape":"M-1,0L1,0M0,-1L0,1","filled":false,"size":28,"stroke":"#e8213a","strokeWidth":0.9,"opacity":1},
"encoding":{"x":{"field":"x","type":"quantitative","axis":{"orient":"bottom","values":[100,200,300,400,600,700,800,900,1100,1200,1300,1400,1600,1700,1800,1900,2100,2200,2300,2400,2600,2700,2800,2900],"tickSize":7,"labels":false,"domain":false,"title":null}},
"y":{"field":"y","type":"quantitative","axis":{"orient":"left","values":[-100,-200,-300,-400,-500,-600,-700,-800,-900,-1100,-1200,-1300,-1400,-1500,-1600,-1700,-1800,-1900,-2100,-2200,-2300,-2400,-2500,-2600,-2700,-2800,-2900,-3100,-3200,-3300,-3400,-3500],"tickSize":7,"labels":false,"domain":false,"title":null}}}},
{"data":{"name":"lab"},"mark":{"type":"text","fontSize":22,"fontWeight":"bold","color":"#2b2b2b"},
"encoding":{"x":{"field":"x","type":"quantitative","axis":{"orient":"top","values":[0,100,200,300,400,500,600,700,800,900,1000,1100,1200,1300,1400,1500,1600,1700,1800,1900,2000,2100,2200,2300,2400,2500,2600,2700,2800,2900,3000],"tickSize":7,"labels":false,"title":null}},
"y":{"field":"y","type":"quantitative","axis":{"orient":"right","values":[0,-1000,-2000,-3000],"tickSize":11,"labels":false,"title":null}},
"text":{"field":"t"}}},
{"data":{"values":[{"t":"8","x":749,"y":-1093}]},"mark":{"type":"text","fontSize":22,"angle":312,"fontWeight":"bold","color":"#2b2b2b"},
"encoding":{"x":{"field":"x","type":"quantitative","axis":null},
"y":{"field":"y","type":"quantitative","axis":{"orient":"right","values":[-100,-200,-300,-400,-500,-600,-700,-800,-900,-1100,-1200,-1300,-1400,-1500,-1600,-1700,-1800,-1900,-2100,-2200,-2300,-2400,-2500,-2600,-2700,-2800,-2900,-3100,-3200,-3300,-3400,-3500],"tickSize":7,"labels":false,"domain":false,"title":null}},"text":{"field":"t"}}},
{"data":{"values":[{"t":"7","x":901,"y":-583}]},"mark":{"type":"text","fontSize":22,"angle":345,"fontWeight":"bold","color":"#2b2b2b"},
"encoding":{"x":{"field":"x","type":"quantitative","axis":null},"y":{"field":"y","type":"quantitative","axis":null},"text":{"field":"t"}}},
{"data":{"name":"wlab"},"mark":{"type":"text","fontSize":17.5,"fontWeight":"bold","color":"white"},
"encoding":{"x":{"field":"x","type":"quantitative","axis":null},"y":{"field":"y","type":"quantitative","axis":null},"text":{"field":"t"}}},
{"data":{"name":"chem"},"mark":{"type":"text","fontSize":22,"fontWeight":"bold","color":"white"},
"encoding":{"x":{"field":"x","type":"quantitative","axis":null},"y":{"field":"y","type":"quantitative","axis":null},"text":{"field":"t"}}},
{"data":{"name":"chemsub"},"mark":{"type":"text","fontSize":18,"fontWeight":"bold","color":"white"},
"encoding":{"x":{"field":"x","type":"quantitative","axis":null},"y":{"field":"y","type":"quantitative","axis":null},"text":{"field":"t"}}},
{"data":{"name":"top"},"mark":{"type":"text","fontSize":24,"dy":-19,"color":"#222"},
"encoding":{"x":{"field":"x","type":"quantitative","axis":null},"y":{"field":"y","type":"quantitative","axis":null},"text":{"field":"t"}}},
{"data":{"name":"abc"},"mark":{"type":"text","fontSize":29,"dy":-21,"fontWeight":"bold","color":"#1f2a7a"},
"encoding":{"x":{"field":"x","type":"quantitative","axis":null},"y":{"field":"y","type":"quantitative","axis":null},"text":{"field":"t"}}}
]}
